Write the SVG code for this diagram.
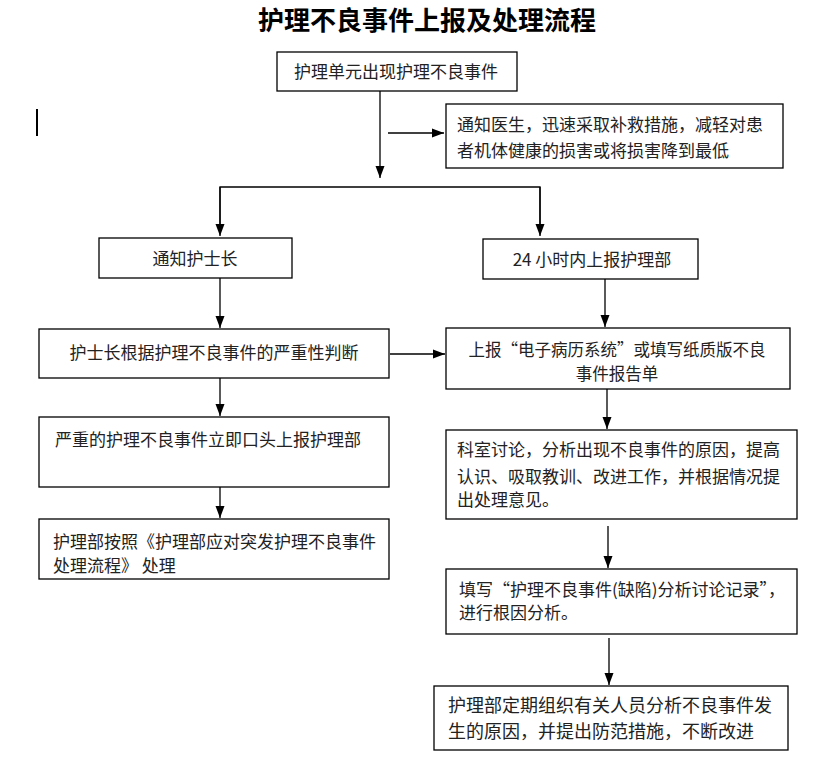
<svg xmlns="http://www.w3.org/2000/svg" width="828" height="760" viewBox="0 0 828 760">
<style>
.box{fill:#fff;stroke:#000;stroke-width:1.3}
.t{font-family:"Noto Sans CJK SC","Liberation Serif",sans-serif;font-size:17px;fill:#222}
.c{text-anchor:middle}
.title{font-family:"Noto Sans CJK SC","Liberation Serif",sans-serif;font-size:26px;font-weight:700;fill:#000;text-anchor:middle}
.ln{fill:none;stroke:#000;stroke-width:1.3}
</style>
<defs>
<marker id="ah" markerUnits="userSpaceOnUse" markerWidth="12" markerHeight="12" viewBox="0 0 12 12" refX="12" refY="6" orient="auto">
<path d="M0,1.5 L12,6 L0,10.5 Z" fill="#000"/>
</marker>
</defs>
<rect width="828" height="760" fill="#fff"/>
<text class="title" x="427" y="30">护理不良事件上报及处理流程</text>
<line x1="37" y1="109" x2="37" y2="136" stroke="#000" stroke-width="2"/>
<g id="connectors">
<line class="ln" x1="380" y1="91" x2="380" y2="178" marker-end="url(#ah)"/>
<line class="ln" x1="388" y1="133" x2="444" y2="133" marker-end="url(#ah)"/>
<polyline class="ln" points="220,233 220,187 540,187 540,233"/>
<line class="ln" x1="220" y1="187" x2="220" y2="236" marker-end="url(#ah)"/>
<line class="ln" x1="540" y1="187" x2="540" y2="236" marker-end="url(#ah)"/>
<line class="ln" x1="220" y1="278" x2="220" y2="328" marker-end="url(#ah)"/>
<line class="ln" x1="605" y1="279" x2="605" y2="327" marker-end="url(#ah)"/>
<line class="ln" x1="390" y1="354" x2="445" y2="354" marker-end="url(#ah)"/>
<line class="ln" x1="220" y1="378" x2="220" y2="416" marker-end="url(#ah)"/>
<line class="ln" x1="607" y1="389" x2="607" y2="429" marker-end="url(#ah)"/>
<line class="ln" x1="220" y1="487" x2="220" y2="518" marker-end="url(#ah)"/>
<line class="ln" x1="608" y1="526" x2="608" y2="568" marker-end="url(#ah)"/>
<line class="ln" x1="609" y1="638" x2="609" y2="685" marker-end="url(#ah)"/>
</g>
<g id="n1"><rect class="box" x="277" y="52" width="240" height="39"/><text class="t c" x="396" y="78">护理单元出现护理不良事件</text></g>
<g id="n2"><rect class="box" x="446" y="104" width="337" height="64"/><text class="t" x="457" y="131">通知医生，迅速采取补救措施，减轻对患</text><text class="t" x="457" y="157">者机体健康的损害或将损害降到最低</text></g>
<g id="n3"><rect class="box" x="99" y="238" width="193" height="40"/><text class="t c" x="195" y="265">通知护士长</text></g>
<g id="n4"><rect class="box" x="483" y="239" width="215" height="40"/><text class="t c" x="592" y="266">24 小时内上报护理部</text></g>
<g id="n5"><rect class="box" x="39" y="329" width="350" height="49"/><text class="t c" x="214" y="359">护士长根据护理不良事件的严重性判断</text></g>
<g id="n6"><rect class="box" x="446" y="328" width="344" height="61"/><text class="t c" x="617" y="356" style="font-size:16.5px">上报“电子病历系统”或填写纸质版不良</text><text class="t c" x="617" y="380" style="font-size:16.5px">事件报告单</text></g>
<g id="n7"><rect class="box" x="39" y="417" width="350" height="70"/><text class="t" x="55" y="446">严重的护理不良事件立即口头上报护理部</text></g>
<g id="n8"><rect class="box" x="446" y="430" width="351" height="89"/><text class="t" x="457" y="456">科室讨论，分析出现不良事件的原因，提高</text><text class="t" x="457" y="483">认识、吸取教训、改进工作，并根据情况提</text><text class="t" x="457" y="506">出处理意见。</text></g>
<g id="n9"><rect class="box" x="39" y="519" width="350" height="60"/><text class="t" x="53" y="548">护理部按照《护理部应对突发护理不良事件</text><text class="t" x="53" y="572">处理流程》 处理</text></g>
<g id="n10"><rect class="box" x="446" y="569" width="351" height="65"/><text class="t" x="459" y="596">填写“护理不良事件(缺陷)分析讨论记录”，</text><text class="t" x="459" y="619">进行根因分析。</text></g>
<g id="n11"><rect class="box" x="434" y="686" width="354" height="64"/><text class="t" x="448" y="712" style="font-size:18px">护理部定期组织有关人员分析不良事件发</text><text class="t" x="448" y="738" style="font-size:18px">生的原因，并提出防范措施，不断改进</text></g>
</svg>
